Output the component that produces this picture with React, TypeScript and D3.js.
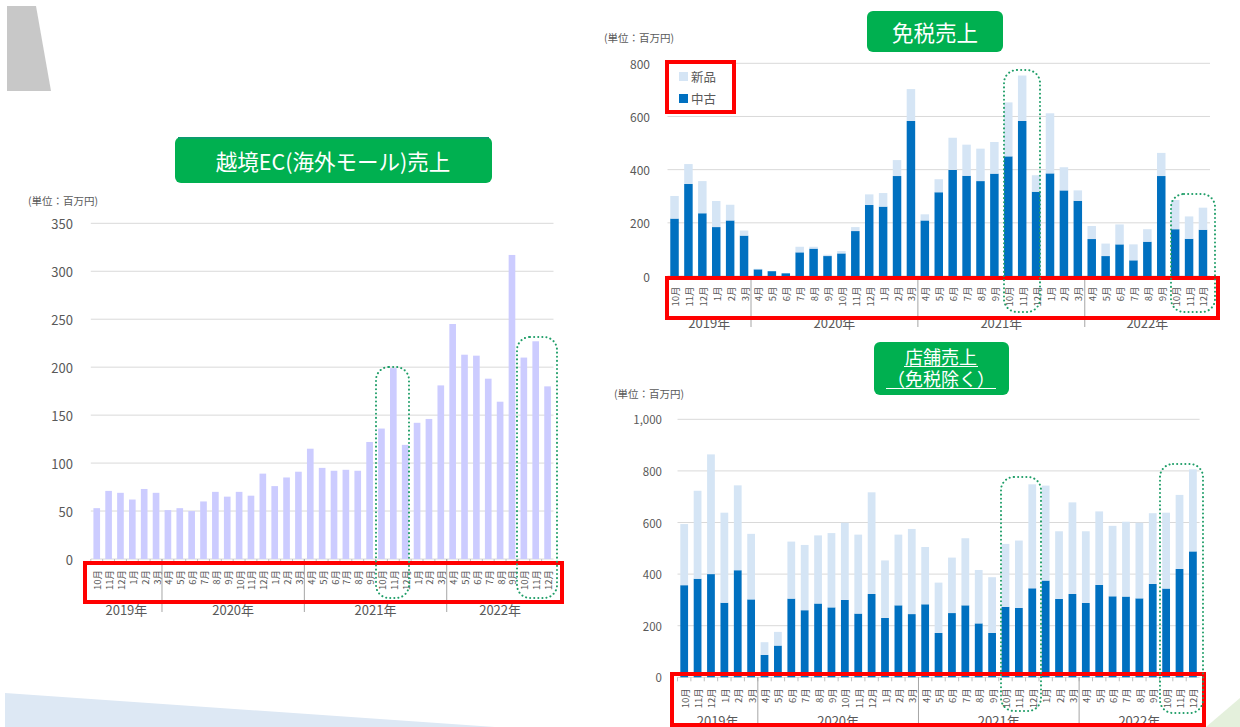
import React from "react";
import * as d3 from "d3";

// ---------- DATA ----------
const months = [
  "10月", "11月", "12月", "1月", "2月", "3月",
  "4月", "5月", "6月", "7月", "8月", "9月", "10月", "11月", "12月", "1月", "2月", "3月",
  "4月", "5月", "6月", "7月", "8月", "9月", "10月", "11月", "12月", "1月", "2月", "3月",
  "4月", "5月", "6月", "7月", "8月", "9月", "10月", "11月", "12月",
];
const yearLabels = ["2019年", "2020年", "2021年", "2022年"];
const yearSpans = [6, 12, 12, 9];

// 越境EC(海外モール)売上
const ecSales = [
  53, 71, 69, 62, 73, 69,
  51, 53, 50, 60, 70, 65, 70, 66, 89, 76, 85, 91,
  115, 95, 92, 93, 92, 122, 136, 199, 119, 142, 146, 181,
  245, 213, 212, 188, 164, 317, 210, 227, 180,
];
const ecTicks = [0, 50, 100, 150, 200, 250, 300, 350];

// 免税売上
const dutyUsed = [
  216, 346, 236, 184, 209, 152,
  25, 18, 10, 89, 103, 75, 85, 169, 267, 261, 376, 583,
  209, 315, 399, 377, 357, 385, 450, 583, 317, 386, 322, 283,
  139, 75, 119, 59, 129, 376, 176, 140, 174,
];
const dutyNew = [
  85, 75, 121, 98, 59, 19,
  2, 0, 0, 21, 7, 5, 9, 15, 40, 51, 60, 120,
  23, 49, 121, 117, 122, 119, 203, 171, 62, 226, 87, 39,
  49, 47, 75, 60, 47, 87, 110, 84, 83,
];
const dutyTicks = [0, 200, 400, 600, 800];

// 店舗売上(免税除く)
const storeUsed = [
  357, 382, 400, 289, 415, 302,
  87, 123, 305, 260, 286, 271, 300, 247, 323, 230, 279, 245,
  283, 172, 249, 279, 209, 172, 273, 269, 345, 375, 304, 323,
  288, 358, 314, 313, 306, 362, 344, 420, 488,
];
const storeNew = [
  237, 341, 464, 349, 329, 254,
  49, 53, 221, 253, 264, 288, 299, 306, 394, 223, 274, 330,
  222, 195, 215, 260, 207, 216, 244, 261, 403, 368, 262, 355,
  278, 285, 273, 290, 293, 274, 294, 287, 318,
];
const storeTicks = [0, 200, 400, 600, 800, 1000];

const seriesNames = ["中古", "新品"];

// ---------- STYLE ----------
const FONT = "'Noto Sans CJK JP', 'Noto Sans', sans-serif";
const TXT = "#595959";
const GRID = "#d9d9d9";
const USED = "#0070c0";
const NEW = "#d5e5f5";
const LAV = "#ccccff";
const GREEN = "#00b050";
const DOT = "#1f9e68";
const RED = "#ff0000";

type Panel = {
  x0: number; x1: number; yBase: number; yTop: number; max: number;
  ticks: number[]; tickFmt: (v: number) => string; tickRight: number; tickSize: number;
  padIn: number; padOut: number;
  labelOffset: number; yearBaseline: number; sepBottom: number;
};

function Axis({ p, x }: { p: Panel; x: d3.ScaleBand<number> }) {
  const idx = d3.range(months.length);
  const step = x.step();
  const start = x.range()[0];
  let acc = 0;
  const bounds = yearSpans.map((s) => {
    const a = acc;
    acc += s;
    return [a, acc];
  });
  const edge = (i: number) => start + x.paddingOuter() * step - (x.paddingInner() * step) / 2 + i * step;
  return (
    <g>
      {idx.map((i) => (
        <line key={"t" + i} x1={edge(i)} x2={edge(i)} y1={p.yBase} y2={p.yBase + 4} stroke="#bfbfbf" />
      ))}
      {idx.map((i) => (
        <text
          key={"m" + i}
          transform={`translate(${(x(i) as number) + x.bandwidth() / 2 + 0.5},${p.yBase + p.labelOffset}) rotate(-90)`}
          textAnchor="end"
          dominantBaseline="central"
          fontSize={9.5}
          fill={TXT}
          fontFamily={FONT}
        >
          {months[i]}
        </text>
      ))}
      {bounds.slice(1).map(([a], k) => (
        <line key={"s" + k} x1={edge(a)} x2={edge(a)} y1={p.yBase} y2={p.sepBottom} stroke="#a6a6a6" />
      ))}
      {bounds.map(([a, b], k) => (
        <text
          key={"y" + k}
          x={(edge(a) + edge(b)) / 2}
          y={p.yearBaseline}
          textAnchor="middle"
          fontSize={13}
          fill={TXT}
          fontFamily={FONT}
        >
          {yearLabels[k]}
        </text>
      ))}
    </g>
  );
}

function Grid({ p, y }: { p: Panel; y: d3.ScaleLinear<number, number> }) {
  return (
    <g>
      {p.ticks.map((t) => (
        <g key={t}>
          <line x1={p.x0} x2={p.x1} y1={y(t)} y2={y(t)} stroke={GRID} strokeWidth={1} />
          <text
            x={p.tickRight}
            y={y(t)}
            textAnchor="end"
            dominantBaseline="central"
            fontSize={p.tickSize}
            fill={TXT}
            fontFamily={FONT}
          >
            {p.tickFmt(t)}
          </text>
        </g>
      ))}
    </g>
  );
}

function makeScales(p: Panel) {
  const x = d3
    .scaleBand<number>()
    .domain(d3.range(months.length))
    .range([p.x0, p.x1])
    .paddingInner(p.padIn)
    .paddingOuter(p.padOut);
  const y = d3.scaleLinear().domain([0, p.max]).range([p.yBase, p.yTop]);
  return { x, y };
}

function SingleBars({ p, values }: { p: Panel; values: number[] }) {
  const { x, y } = makeScales(p);
  return (
    <g>
      <Grid p={p} y={y} />
      {values.map((v, i) => (
        <rect key={i} x={x(i)} y={y(v)} width={x.bandwidth()} height={y(0) - y(v)} fill={LAV} />
      ))}
      <Axis p={p} x={x} />
    </g>
  );
}

function StackBars({ p, used, fresh }: { p: Panel; used: number[]; fresh: number[] }) {
  const { x, y } = makeScales(p);
  const rows = used.map((u, i) => ({ i, used: u, fresh: fresh[i] }));
  const stack = d3.stack<any>().keys(["used", "fresh"])(rows);
  const colors = [USED, NEW];
  return (
    <g>
      <Grid p={p} y={y} />
      {stack.map((layer, li) =>
        layer.map((d, i) => (
          <rect
            key={li + "-" + i}
            x={x(i)}
            y={y(d[1])}
            width={x.bandwidth()}
            height={Math.max(0, y(d[0]) - y(d[1]))}
            fill={colors[li]}
          />
        ))
      )}
      <Axis p={p} x={x} />
    </g>
  );
}

function DotBox({ x, y, w, h }: { x: number; y: number; w: number; h: number }) {
  return (
    <rect
      x={x}
      y={y}
      width={w}
      height={h}
      rx={13}
      ry={13}
      fill="none"
      stroke={DOT}
      strokeWidth={2}
      strokeDasharray="0.1 4"
      strokeLinecap="round"
    />
  );
}

const fmtPlain = (v: number) => String(v);
const fmtComma = d3.format(",");

export default function App() {
  const ecPanel: Panel = {
    x0: 90.8, x1: 553.5, yBase: 559, yTop: 223.3, max: 350,
    ticks: ecTicks, tickFmt: fmtPlain, tickRight: 73, tickSize: 13,
    padIn: 0.44, padOut: 0.22, labelOffset: 11, yearBaseline: 615, sepBottom: 612,
  };
  const dutyPanel: Panel = {
    x0: 667.5, x1: 1210, yBase: 276, yTop: 63.3, max: 800,
    ticks: dutyTicks, tickFmt: fmtPlain, tickRight: 650, tickSize: 12,
    padIn: 0.39, padOut: 0.2, labelOffset: 10.5, yearBaseline: 328, sepBottom: 327,
  };
  const storePanel: Panel = {
    x0: 677.5, x1: 1199.6, yBase: 677.3, yTop: 419.3, max: 1000,
    ticks: storeTicks, tickFmt: fmtComma, tickRight: 662, tickSize: 11.5,
    padIn: 0.42, padOut: 0.21, labelOffset: 11, yearBaseline: 726, sepBottom: 727,
  };

  const unit = "(単位：百万円)";

  return (
    <svg
      width={1240}
      height={727}
      style={{ position: "absolute", left: 0, top: 0, background: "#fff" }}
      fontFamily={FONT}
    >
      {/* decorations */}
      <polygon points="7,6 36,6 51,91 7,91" fill="#c8c8c8" />
      <polygon points="5,693 495,727 5,727" fill="#dde8f4" />
      <polygon points="1206,727 1240,698 1240,727" fill="#e4f0dc" />

      {/* ===== left: 越境EC ===== */}
      <rect x={175} y={137} width={317} height={46} rx={6} fill={GREEN} />
      <rect x={178} y={137} width={311} height={2} fill="#0a9d6c" />
      <text x={333} y={160} textAnchor="middle" dominantBaseline="central" fontSize={21.5} fill="#fff">
        越境EC(海外モール)売上
      </text>
      <text x={28} y={200} dominantBaseline="central" fontSize={10.5} fill={TXT}>{unit}</text>
      <SingleBars p={ecPanel} values={ecSales} />
      <rect x={85} y={563} width={477} height={39} fill="none" stroke={RED} strokeWidth={4} />
      <DotBox x={376} y={367} w={33} h={231} />
      <DotBox x={517} y={337} w={40} h={261} />

      {/* ===== top right: 免税売上 ===== */}
      <rect x={867} y={11} width={136} height={41} rx={6} fill={GREEN} />
      <text x={935} y={31.5} textAnchor="middle" dominantBaseline="central" fontSize={21.5} fill="#fff">
        免税売上
      </text>
      <text x={604} y={37} dominantBaseline="central" fontSize={10.5} fill={TXT}>{unit}</text>
      <StackBars p={dutyPanel} used={dutyUsed} fresh={dutyNew} />
      {/* legend */}
      <rect x={679} y={72} width={9} height={9} fill={NEW} />
      <text x={691} y={76.5} dominantBaseline="central" fontSize={12.5} fill={TXT}>{seriesNames[1]}</text>
      <rect x={679} y={94} width={9} height={9} fill={USED} />
      <text x={691} y={98} dominantBaseline="central" fontSize={12.5} fill={TXT}>{seriesNames[0]}</text>
      <rect x={667} y={62} width={67} height={50} fill="none" stroke={RED} strokeWidth={4} />
      <rect x={667} y={278} width={551} height={40} fill="none" stroke={RED} strokeWidth={4} />
      <DotBox x={1004} y={70} w={36} h={242} />
      <DotBox x={1171} y={194} w={44} h={118} />

      {/* ===== bottom right: 店舗売上 ===== */}
      <rect x={874} y={342} width={135} height={53} rx={6} fill={GREEN} />
      <text x={941} y={356} textAnchor="middle" dominantBaseline="central" fontSize={18} fill="#fff">
        店舗売上
      </text>
      <line x1={941 - 37} x2={941 + 37} y1={366.5} y2={366.5} stroke="#fff" strokeWidth={1.2} />
      <text x={941} y={378} textAnchor="middle" dominantBaseline="central" fontSize={18} fill="#fff">
        （免税除く）
      </text>
      <line x1={941 - 55} x2={941 + 55} y1={388.5} y2={388.5} stroke="#fff" strokeWidth={1.2} />
      <text x={614} y={393} dominantBaseline="central" fontSize={10.5} fill={TXT}>{unit}</text>
      <StackBars p={storePanel} used={storeUsed} fresh={storeNew} />
      <rect x={672} y={674} width={532} height={51} fill="none" stroke={RED} strokeWidth={4} />
      <DotBox x={1001} y={477} w={40} h={234} />
      <DotBox x={1160} y={464} w={43} h={249} />
    </svg>
  );
}
